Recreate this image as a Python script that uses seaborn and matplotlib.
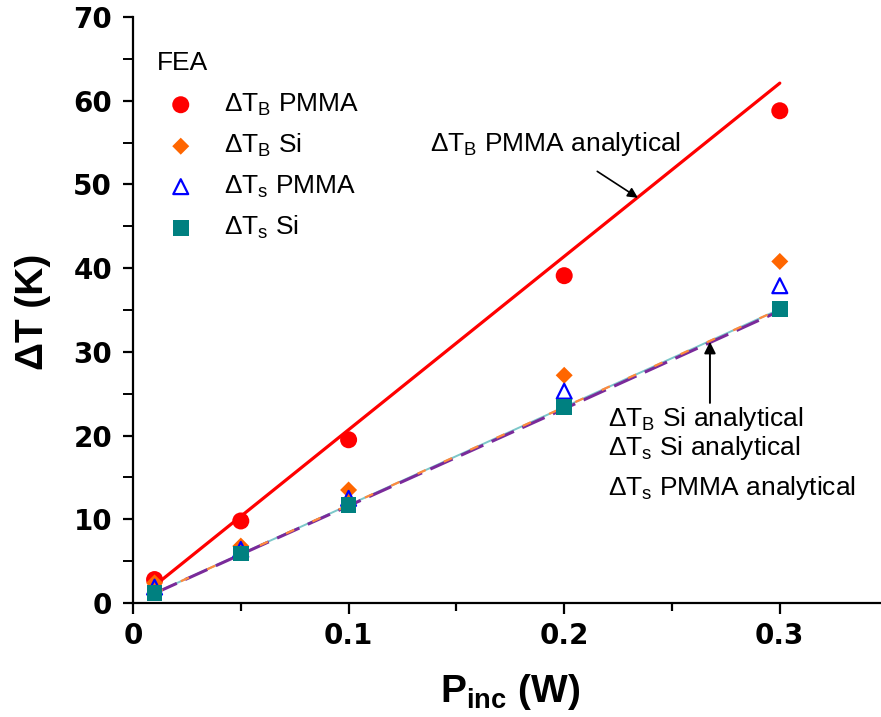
import matplotlib
matplotlib.use("Agg")
import matplotlib.pyplot as plt
from matplotlib.ticker import MultipleLocator, FixedLocator
import seaborn as sns

# Incident power (W)
p_inc = [0.01, 0.05, 0.1, 0.2, 0.3]

# FEA temperature rises (K)
dtb_pmma = [2.8, 9.8, 19.5, 39.1, 58.8]
dtb_si = [2.4, 6.8, 13.5, 27.2, 40.8]
dts_pmma = [1.9, 6.4, 12.5, 25.3, 37.9]
dts_si = [1.2, 5.9, 11.7, 23.4, 35.1]

# Analytical temperature rises (K)
dtb_pmma_an = [2.07, 10.35, 20.7, 41.4, 62.1]
dtb_si_an = [1.17, 5.85, 11.7, 23.4, 35.1]
dts_si_an = [1.17, 5.85, 11.7, 23.4, 35.1]
dts_pmma_an = [1.15, 5.80, 11.6, 23.2, 34.9]

x_ticks = [0, 0.1, 0.2, 0.3]
x_tick_labels = ["0", "0.1", "0.2", "0.3"]
y_ticks = [0, 10, 20, 30, 40, 50, 60, 70]

sns.set_theme(style="ticks")
plt.rcParams["font.family"] = ["Liberation Sans", "DejaVu Sans"]
plt.rcParams["mathtext.fontset"] = "custom"
plt.rcParams["mathtext.rm"] = "Liberation Sans"
plt.rcParams["mathtext.it"] = "Liberation Sans"
plt.rcParams["mathtext.bf"] = "Liberation Sans:bold"
for key in ["text.color", "axes.labelcolor", "xtick.color", "ytick.color", "axes.edgecolor"]:
    plt.rcParams[key] = "black"

fig = plt.figure(figsize=(8.81, 7.17), dpi=100)
W, H = 881, 717
AW, AH = 754.6, 586
ax = fig.add_axes([133 / W, (717 - 603) / H, AW / W, AH / H])

# analytical curves
sns.lineplot(x=p_inc, y=dts_si_an, ax=ax, color="#7cc7c9", lw=1.4, zorder=2)
sns.lineplot(x=p_inc, y=dts_pmma_an, ax=ax, color="#7a2a9a", lw=2.2, zorder=2).lines[-1].set_dashes([8, 3])
sns.lineplot(x=p_inc, y=dtb_si_an, ax=ax, color="#ff8a3d", lw=1.6, zorder=3).lines[-1].set_dashes([4, 9])
sns.lineplot(x=p_inc, y=dtb_pmma_an, ax=ax, color="#ff0000", lw=2.3, zorder=3)

# FEA points
sns.scatterplot(x=p_inc, y=dtb_pmma, ax=ax, color="#ff0000", marker="o", s=150,
                edgecolor="none", label="ΔT$_\\mathregular{B}$ PMMA", zorder=5)
sns.scatterplot(x=p_inc, y=dtb_si, ax=ax, color="#ff6600", marker="D", s=75,
                edgecolor="none", label="ΔT$_\\mathregular{B}$ Si", zorder=5)
sns.scatterplot(x=p_inc, y=dts_pmma, ax=ax, marker="^", s=115, facecolor="none",
                edgecolor="#0000ff", linewidth=1.6, label="ΔT$_\\mathregular{s}$ PMMA", zorder=5)
sns.scatterplot(x=p_inc, y=dts_si, ax=ax, color="#008080", marker="s", s=125,
                edgecolor="none", label="ΔT$_\\mathregular{s}$ Si", zorder=6)

ax.set_xlim(0, 0.35)
ax.set_ylim(0, 70)
ax.xaxis.set_major_locator(FixedLocator(x_ticks))
ax.set_xticklabels(x_tick_labels)
ax.xaxis.set_minor_locator(MultipleLocator(0.05))
ax.yaxis.set_major_locator(FixedLocator(y_ticks))
ax.yaxis.set_minor_locator(MultipleLocator(5))

for s in ["top", "right"]:
    ax.spines[s].set_visible(False)
for s in ["left", "bottom"]:
    ax.spines[s].set_linewidth(1.6)

ax.tick_params(axis="both", which="major", direction="out", width=1.6, labelsize=20)
ax.tick_params(axis="x", which="major", length=8, pad=6)
ax.tick_params(axis="x", which="minor", length=6, width=1.6)
ax.tick_params(axis="y", which="major", length=7, pad=8)
ax.tick_params(axis="y", which="minor", length=7, width=1.4)
for lab in ax.get_xticklabels() + ax.get_yticklabels():
    lab.set_fontweight("bold")
    lab.set_family("DejaVu Sans")

ax.set_xlabel("P$_\\mathbf{inc}$ (W)", fontsize=28, fontweight="bold")
ax.set_ylabel("ΔT (K)", fontsize=28, fontweight="bold")
ax.xaxis.set_label_coords((510 - 133) / AW, -(672 - 603) / AH)
ax.yaxis.set_label_coords(-(133 - 51) / AW, (603 - 312) / AH)

leg = ax.legend(title="FEA", loc="upper left", bbox_to_anchor=(24 / AW, (603 - 51) / AH),
                frameon=False, fontsize=19, title_fontsize=19, alignment="left",
                handletextpad=0.75, labelspacing=0.54, borderaxespad=0, borderpad=0,
                handlelength=1.8)
leg._legend_box.align = "left"
leg._legend_box.sep = 12

# callouts for the analytical curves
ax.annotate("ΔT$_\\mathregular{B}$ PMMA analytical", xy=(0.2342, 48.4), xytext=(0.196, 54.8),
            fontsize=19, ha="center", va="center",
            arrowprops=dict(arrowstyle="-|>", color="black", lw=1.2, shrinkA=13, shrinkB=0,
                            mutation_scale=15))
ax.annotate("", xy=(0.2676, 31.2), xytext=(0.2676, 23.9),
            arrowprops=dict(arrowstyle="-|>", color="black", lw=1.4, shrinkA=0, shrinkB=0,
                            mutation_scale=17))
ax.text(0.2203, 22.0, "ΔT$_\\mathregular{B}$ Si analytical", fontsize=19, va="center")
ax.text(0.2203, 18.5, "ΔT$_\\mathregular{s}$ Si analytical", fontsize=19, va="center")
ax.text(0.2203, 13.7, "ΔT$_\\mathregular{s}$ PMMA analytical", fontsize=19, va="center")

fig.savefig("out.png", dpi=100)
